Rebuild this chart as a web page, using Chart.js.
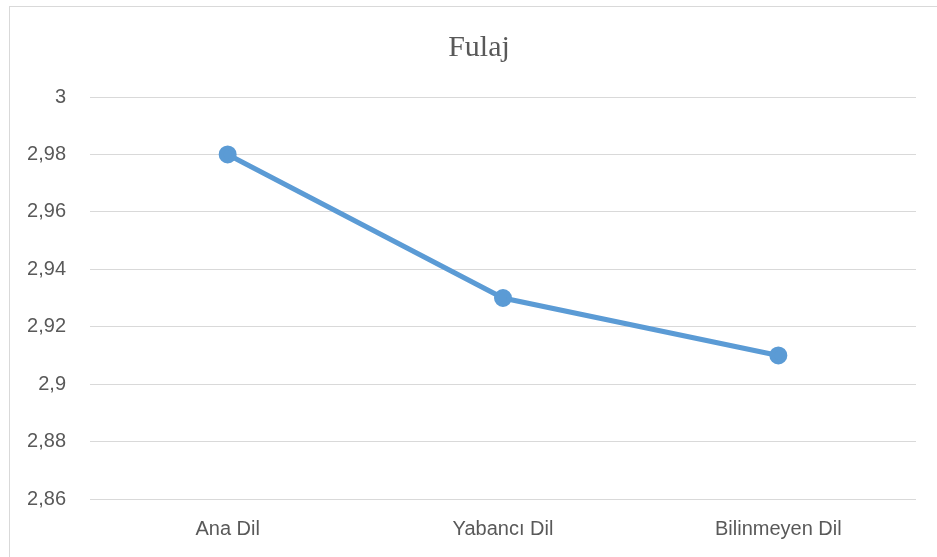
<!DOCTYPE html>
<html>
<head>
<meta charset="utf-8">
<script src="https://cdn.jsdelivr.net/npm/chart.js@4"></script>
<style>
    html, body { margin: 0; padding: 0; background: #fff; overflow: hidden; }
    #frame { position: absolute; left: 9px; top: 6px; width: 940px; height: 560px; border: 1px solid #d9d9d9; }
    #wrap { position: absolute; left: 0; top: 0; width: 937px; height: 557px; }
</style>
</head>
<body>
<div id="frame"></div>
<div id="wrap"><canvas id="lineChart"></canvas></div>
<script>
var categorias = ['Ana Dil', 'Yabancı Dil', 'Bilinmeyen Dil'];
var valores = [2.98, 2.93, 2.91];
var titulo = 'Fulaj';
var ejeMin = 2.86;
var ejeMax = 3;
var ejePaso = 0.02;

var colorLinea = '#5B9BD5';
var colorTexto = '#595959';

new Chart(document.getElementById('lineChart'), {
    type: 'line',
    data: {
        labels: categorias,
        datasets: [
            {
                label: titulo,
                data: valores,
                borderColor: colorLinea,
                backgroundColor: colorLinea,
                borderWidth: 5,
                pointRadius: 6.5,
                pointHoverRadius: 6.5,
                tension: 0
            }
        ]
    },
    options: {
        responsive: true,
        maintainAspectRatio: false,
        animation: false,
        // title box spans 21..937 so it is centered over the frame
        layout: { padding: { left: 21, right: 0, top: 0, bottom: 0 } },
        plugins: {
            legend: { display: false },
            tooltip: { enabled: false },
            title: {
                display: true,
                text: titulo,
                color: colorTexto,
                font: { family: '"Liberation Serif", serif', size: 30, weight: 'normal' },
                padding: { top: 30, bottom: 31 }
            }
        },
        scales: {
            x: {
                offset: true,
                grid: { display: false, drawTicks: false },
                border: { display: false },
                ticks: {
                    color: colorTexto,
                    padding: 18,
                    font: { family: '"Liberation Sans", sans-serif', size: 20 }
                },
                afterFit: function (scale) { scale.height = 58; }
            },
            y: {
                min: ejeMin,
                max: ejeMax,
                grid: { color: '#d9d9d9', lineWidth: 1, drawTicks: false },
                border: { display: false },
                ticks: {
                    stepSize: ejePaso,
                    color: colorTexto,
                    padding: 24,
                    font: { family: '"Liberation Sans", sans-serif', size: 20 },
                    callback: function (v) {
                        return String(Math.round(v * 100) / 100).replace('.', ',');
                    }
                },
                afterFit: function (scale) { scale.width = 69; }
            },
            // empty axis on the right, only keeps the right margin
            yRight: {
                position: 'right',
                grid: { display: false, drawTicks: false },
                border: { display: false },
                ticks: { display: false },
                afterFit: function (scale) { scale.width = 21; }
            }
        }
    }
});
</script>
</body>
</html>
